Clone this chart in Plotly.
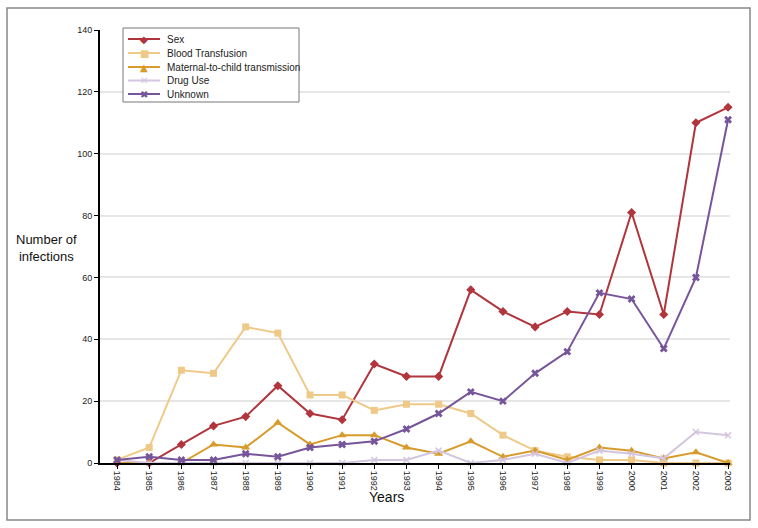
import plotly.graph_objects as go

years = list(range(1984, 2004))
sex = [0, 0, 6, 12, 15, 25, 16, 14, 32, 28, 28, 56, 49, 44, 49, 48, 81, 48, 110, 115]
blood = [1, 5, 30, 29, 44, 42, 22, 22, 17, 19, 19, 16, 9, 4, 2, 1, 1, 0, 0, 0]
maternal = [0, 0, 0, 6, 5, 13, 6, 9, 9, 5, 3, 7, 2, 4, 1, 5, 4, 1.5, 3.5, 0]
drug = [1, 0, 0, 0, 0, 0, 0, 0, 1, 1, 4, 0, 1, 3, 0, 4, 3, 1.5, 10, 9]
unknown = [1, 2, 1, 1, 3, 2, 5, 6, 7, 11, 16, 23, 20, 29, 36, 55, 53, 37, 60, 111]

names = ["Sex", "Blood Transfusion", "Maternal-to-child transmission", "Drug Use", "Unknown"]
values = [sex, blood, maternal, drug, unknown]
colors = ["#B0353D", "#EFC987", "#D89B2B", "#D4C6DF", "#77559A"]
symbols = ["diamond", "square", "triangle-up", "x-thin-open", "x"]
sizes = [7, 7, 8, 6, 7]
glyphs = ["◆", "■", "▲", "✕", "✖"]

FONT = "Liberation Sans Narrow, Arial Narrow, Liberation Sans, Arial, sans-serif"

W, H = 758, 528
L, R, T, B = 100, 28, 30, 65
PW, PH = W - L - R, H - T - B


def px(x):
    return (x - L) / PW


def py(y):
    return (H - B - y) / PH


fig = go.Figure()
for name, vals, color, sym, sz in zip(names, values, colors, symbols, sizes):
    fig.add_trace(go.Scatter(
        x=years, y=vals, name=name, mode="lines+markers",
        line=dict(color=color, width=2),
        marker=dict(symbol=sym, size=sz, color=color,
                    line=dict(color=color, width=1.5 if "thin" in sym else 0)),
        cliponaxis=False, showlegend=False,
    ))

shapes = [
    dict(type="rect", xref="paper", yref="paper",
         x0=px(7), x1=px(750), y0=py(520), y1=py(8),
         line=dict(color="#888", width=1.5), layer="below"),
    dict(type="rect", xref="paper", yref="paper",
         x0=px(123), x1=px(299), y0=py(102), y1=py(28),
         line=dict(color="#777", width=1), fillcolor="white", layer="above"),
]
annotations = [
    dict(text="Number of<br>infections", xref="paper", yref="paper",
         x=px(47), y=py(248), xanchor="center", yanchor="middle",
         showarrow=False, align="center",
         font=dict(size=13, family=FONT, color="#111")),
    dict(text="Years", xref="paper", yref="paper",
         x=px(386), y=py(497), xanchor="center", yanchor="middle",
         showarrow=False, font=dict(size=14, family=FONT, color="#111")),
]
row_y = [39, 53, 67, 80.5, 94]
for name, color, g, ry in zip(names, colors, glyphs, row_y):
    shapes.append(dict(type="line", xref="paper", yref="paper",
                       x0=px(128), x1=px(160), y0=py(ry), y1=py(ry),
                       line=dict(color=color, width=2), layer="above"))
    annotations.append(dict(text=g, xref="paper", yref="paper",
                            x=px(144), y=py(ry), xanchor="center", yanchor="middle",
                            showarrow=False,
                            font=dict(size=10, family="DejaVu Sans", color=color)))
    annotations.append(dict(text=name, xref="paper", yref="paper",
                            x=px(165), y=py(ry), xanchor="left", yanchor="middle",
                            showarrow=False,
                            font=dict(size=10, family=FONT, color="#222")))

fig.update_layout(
    width=W, height=H,
    margin=dict(l=L, r=R, t=T, b=B, autoexpand=False),
    paper_bgcolor="white", plot_bgcolor="white",
    font=dict(family=FONT, size=11, color="#222"),
    showlegend=False,
    xaxis=dict(range=[1983.47, 2003.06], tickvals=years,
               ticktext=[str(y) for y in years], tickangle=90,
               showgrid=False, zeroline=False, showline=True,
               linecolor="black", linewidth=2, ticks="outside",
               ticklen=4, tickcolor="black", automargin=False,
               tickfont=dict(size=9, family=FONT)),
    yaxis=dict(range=[0, 140], tickvals=[0, 20, 40, 60, 80, 100, 120, 140],
               showgrid=True, gridcolor="#e6e6e6", gridwidth=1.5,
               zeroline=False, showline=True, linecolor="black", linewidth=2,
               ticks="outside", ticklen=4, tickcolor="black", automargin=False,
               tickfont=dict(size=9, family=FONT)),
    annotations=annotations,
    shapes=shapes,
)

fig.write_html("out.html", config={"displayModeBar": False},
               post_script="document.body.style.margin='0';document.body.style.overflow='hidden';")
